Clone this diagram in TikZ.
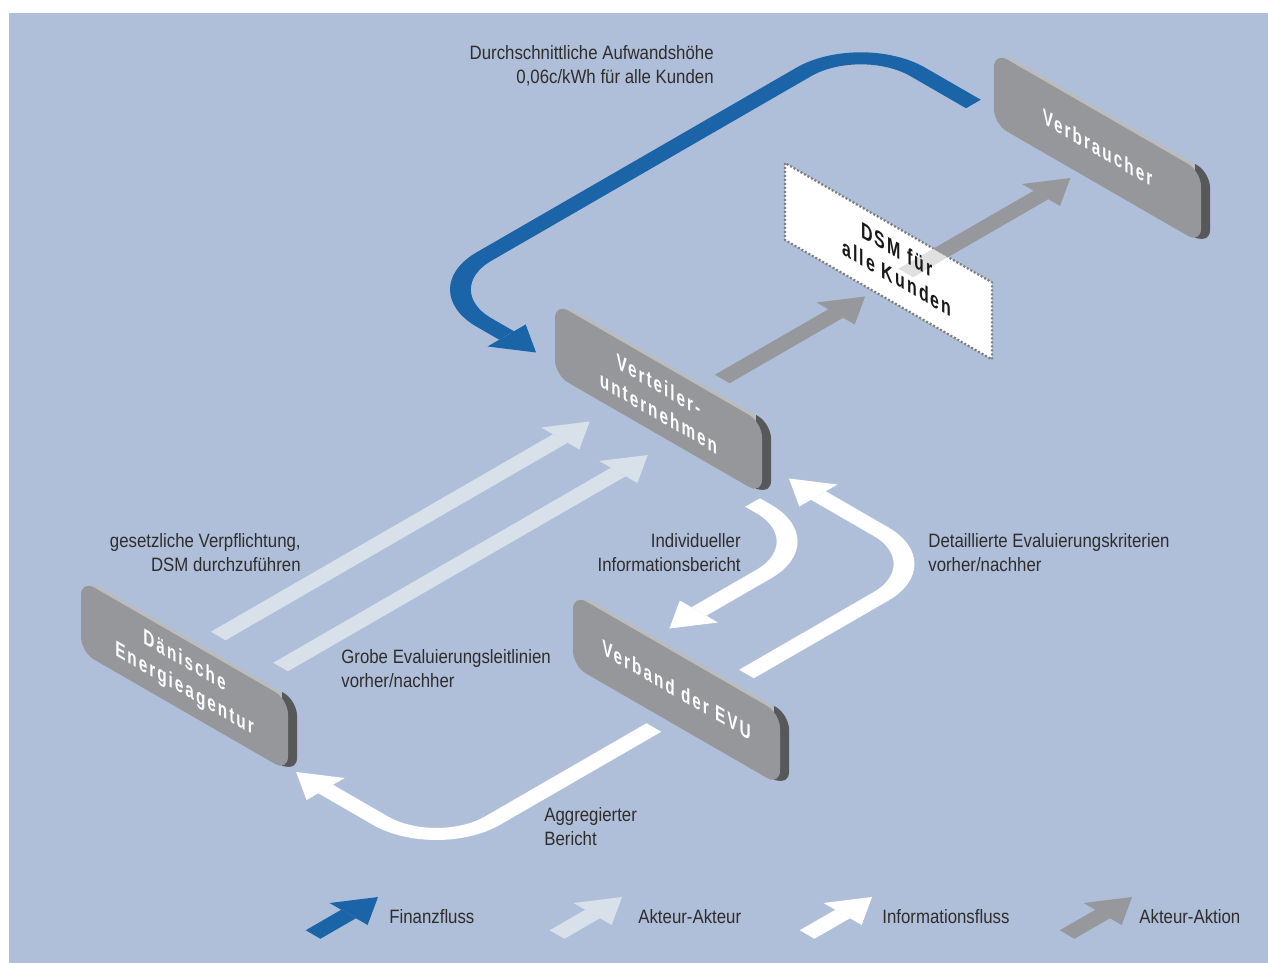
\documentclass[tikz,border=0pt]{standalone}
\usepackage{fontspec}
\setmainfont{Liberation Sans}[FakeStretch=0.87]
\newfontfamily\slabfont{Liberation Sans}[FakeStretch=0.7,LetterSpace=9]
\usetikzlibrary{arrows.meta}

\definecolor{bgblue}{HTML}{B0BFD9}
\definecolor{finblue}{HTML}{1B64A8}
\definecolor{actlight}{HTML}{D8E0EA}
\definecolor{actgray}{HTML}{97989B}
\definecolor{slabfront}{HTML}{96979A}
\definecolor{slabtop}{HTML}{BBBCBE}
\definecolor{slabside}{HTML}{57585A}
\definecolor{labelgray}{HTML}{2E2D2C}
\definecolor{dotgray}{HTML}{7E7E7E}

\tikzset{
  flow/.style={line width=3.4mm, -{Triangle[length=6.8mm,width=8.8mm,line width=0pt]}},
  finflow/.style={flow, color=finblue, rounded corners=13.2mm},
  actorflow/.style={flow, color=actlight},
  infoflow/.style={flow, color=white, rounded corners=13mm},
  actionflow/.style={flow, color=actgray},
  iso/.style={transform canvas={cm={0.866,0.5,-0.866,0.5,(0,0)}}},
  slabtext/.style={transform shape, text=white, align=center, inner sep=0pt,
    font=\slabfont\bfseries\fontsize{12.5}{16}\selectfont},
  dsmtext/.style={slabtext, text=black!90, font=\slabfont\bfseries\fontsize{13}{16}\selectfont},
  dsmedge/.style={draw=dotgray, line width=0.45mm, dash pattern=on 0.4mm off 0.4mm},
  lbl/.style={text=labelgray, inner sep=0pt, font=\fontsize{11}{13.6}\selectfont},
}

% slab: top-left x, top-left y, name, text
\newcommand\slab[4]{%
  \begin{scope}[shift={(#1,#2)}, yslant=-0.577]
    \foreach \st in {1,...,6}
      \fill[slabtop, rounded corners=3mm] (1.5*\st,-0.67*\st) rectangle +(207,72);
    \begin{scope}
      \clip (201,-30) rectangle (240,110);
      \foreach \st in {1,...,6}
        \fill[slabside, rounded corners=3mm] (1.5*\st,-0.67*\st) rectangle +(207,72);
    \end{scope}
    \fill[slabfront, rounded corners=3mm] (0,0) rectangle (207,72);
    \node[slabtext] (#3) at (103.5,36) {#4};
  \end{scope}}

\begin{document}
\begin{tikzpicture}[x=0.2mm, y=-0.2mm]
\useasboundingbox (0,0) rectangle (1268,963);
\fill[bgblue] (9,13) rectangle (1268,963);

% flows on the ground plane
\begin{scope}[iso]
  \coordinate (fin-a) at (458,666);
  \coordinate (fin-b) at (458,536);
  \coordinate (fin-c) at (-43,536);
  \coordinate (fin-d) at (-43,662);
  \draw[finflow] (fin-a) -- (fin-b) -- (fin-c) -- (fin-d);

  \coordinate (act-a) at (38,796);
  \coordinate (act-b) at (203,796);
  \draw[actionflow] (act-a) -- (act-b);

  \coordinate (dea-a) at (-510,762);
  \coordinate (dea-b) at (-81,762);
  \coordinate (dea-c) at (-505,829);
  \coordinate (dea-d) at (-81,829);
  \draw[actorflow] (dea-a) -- (dea-b);
  \draw[actorflow] (dea-c) -- (dea-d);

  \coordinate (inf-a) at (-68,937);
  \coordinate (inf-b) at (-68,1015);
  \coordinate (inf-c) at (-242,1015);
  \draw[infoflow] (inf-a) -- (inf-b) -- (inf-c);
  \coordinate (inf-d) at (-243,1105);
  \coordinate (inf-e) at (-23,1105);
  \coordinate (inf-f) at (-23,934);
  \draw[infoflow] (inf-d) -- (inf-e) -- (inf-f);
  \coordinate (inf-g) at (-350,1105);
  \coordinate (inf-h) at (-601,1105);
  \coordinate (inf-i) at (-601,943);
  \draw[infoflow] (inf-g) -- (inf-h) -- (inf-i);
\end{scope}

% DSM panel
\begin{scope}[shift={(785,163)}, yslant=-0.577]
  \fill[white] (0,0) rectangle (207,77);
  \draw[dsmedge] (0,0) rectangle (207,77);
\end{scope}

\begin{scope}[iso]
  \coordinate (dsm-a) at (250,796);
  \coordinate (dsm-b) at (290,796);
  \coordinate (vb-in) at (440,796);
  \draw[line width=3.4mm, actgray!30] (dsm-a) -- (dsm-b);
  \draw[actionflow] (dsm-b) -- (vb-in);
\end{scope}

\begin{scope}[shift={(785,163)}, yslant=-0.577]
  \node[dsmtext] (dsm) at (112,36) {DSM für\\alle Kunden};
\end{scope}

\slab{994}{52}{vb}{Verbraucher}
\slab{555}{303}{vu}{Verteiler-\\unternehmen}
\slab{81}{580}{dea}{Dänische\\Energieagentur}
\slab{573}{594}{evu}{Verband der EVU}

% legend
\begin{scope}[iso]
  \foreach \px/\kind in {378/finflow,622/actorflow,872/infoflow,1132/actionflow}{
    \coordinate (lg-\px-a) at ({0.5774*\px-972},{0.5774*\px+897});
    \coordinate (lg-\px-b) at ({0.5774*\px-897},{0.5774*\px+897});
    \draw[\kind] (lg-\px-a) -- (lg-\px-b);
  }
\end{scope}

\node[lbl, anchor=east, align=right] (cost) at (714,66) {Durchschnittliche Aufwandshöhe\\0,06c/kWh für alle Kunden};
\node[lbl, anchor=east, align=right] (duty) at (301,553) {gesetzliche Verpflichtung,\\DSM durchzuführen};
\node[lbl, anchor=west, align=left] (guide) at (341,669) {Grobe Evaluierungsleitlinien\\vorher/nachher};
\node[lbl, anchor=east, align=right] (indiv) at (741,553) {Individueller\\Informationsbericht};
\node[lbl, anchor=west, align=left] (crit) at (928,553) {Detaillierte Evaluierungskriterien\\vorher/nachher};
\node[lbl, anchor=west, align=left] (aggr) at (544,827) {Aggregierter\\Bericht};

\node[lbl, anchor=west] (lg-fin) at (389,917) {Finanzfluss};
\node[lbl, anchor=west] (lg-act) at (638,917) {Akteur-Akteur};
\node[lbl, anchor=west] (lg-inf) at (882,917) {Informationsfluss};
\node[lbl, anchor=west] (lg-aktion) at (1139,917) {Akteur-Aktion};
\end{tikzpicture}
\end{document}
